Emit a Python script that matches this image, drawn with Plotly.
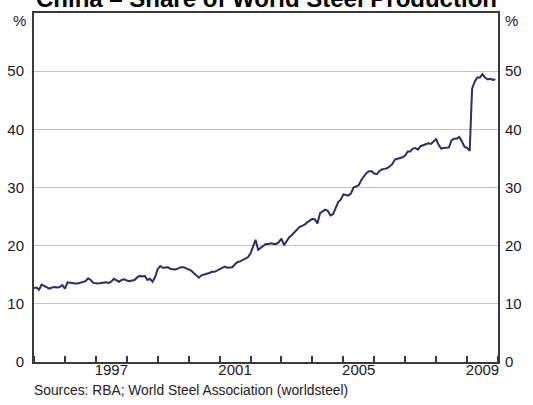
import pandas as pd
import plotly.graph_objects as go

# China share of world steel production, monthly, per cent
share_1995 = [12.7, 12.8, 12.4, 13.3, 13.1, 12.9, 12.6, 12.8, 12.9, 12.8, 12.9, 13.2]
share_1996 = [12.6, 13.7, 13.6, 13.5, 13.5, 13.5, 13.6, 13.7, 13.9, 14.4, 14.1, 13.6]
share_1997 = [13.5, 13.5, 13.6, 13.7, 13.7, 13.6, 13.8, 14.3, 14.0, 13.8, 14.1, 14.2]
share_1998 = [14.0, 13.9, 14.0, 14.1, 14.5, 14.8, 14.7, 14.8, 14.1, 14.3, 13.8, 14.6]
share_1999 = [16.0, 16.5, 16.2, 16.2, 16.3, 16.0, 15.9, 15.9, 16.1, 16.3, 16.3, 16.1]
share_2000 = [15.9, 15.7, 15.3, 14.8, 14.5, 14.9, 15.0, 15.1, 15.3, 15.5, 15.5, 15.7]
share_2001 = [15.9, 16.1, 16.4, 16.2, 16.2, 16.3, 16.8, 17.2, 17.3, 17.5, 17.7, 18.0]
share_2002 = [18.7, 20.1, 21.0, 19.3, 19.6, 20.0, 20.3, 20.3, 20.4, 20.3, 20.3, 20.6]
share_2003 = [21.2, 20.1, 20.8, 21.4, 21.8, 22.3, 22.6, 23.2, 23.4, 23.6, 24.0, 24.3]
share_2004 = [24.6, 24.5, 23.8, 25.6, 25.9, 26.2, 26.0, 25.2, 25.4, 26.6, 27.5, 27.9]
share_2005 = [28.8, 28.7, 28.6, 29.0, 30.0, 30.2, 30.4, 31.3, 31.9, 32.5, 32.8, 32.8]
share_2006 = [32.4, 32.3, 32.8, 33.1, 33.2, 33.3, 33.6, 34.0, 34.8, 34.9, 35.0, 35.2]
share_2007 = [35.5, 36.2, 36.2, 36.7, 36.8, 36.5, 37.1, 37.3, 37.5, 37.6, 37.5, 37.9]
share_2008 = [38.3, 37.3, 36.7, 36.8, 36.9, 36.9, 38.1, 38.4, 38.4, 38.7, 37.9, 37.0]
share_2009 = [36.8, 36.3, 47.0, 48.2, 48.9, 48.9, 49.5, 48.9, 48.6, 48.7, 48.5, 48.6]

start_month = "1995-01-01"
x_range = ["1995-01-01", "2010-01-01"]
year_ticks = [f"{y}-01-01" for y in range(1995, 2011)]
label_years = ["1997", "2001", "2005", "2009"]
label_pos = [f"{y}-07-02" for y in label_years]
y_tickvals = [0, 10, 20, 30, 40, 50, 60]
y_ticktext = ["0", "10", "20", "30", "40", "50", ""]
unit_label = "%"

title = "China – Share of World Steel Production"
source = "Sources: RBA; World Steel Association (worldsteel)"

values = (share_1995 + share_1996 + share_1997 + share_1998 + share_1999 + share_2000
          + share_2001 + share_2002 + share_2003 + share_2004 + share_2005 + share_2006
          + share_2007 + share_2008 + share_2009)
dates = pd.date_range(start_month, periods=len(values), freq="MS")

FONT = "Liberation Sans, Arial, sans-serif"
AX = "#3a3a3a"
TXT = "#1a1a1a"

fig = go.Figure()
fig.add_trace(go.Scatter(x=dates, y=values, mode="lines",
                         line=dict(color="#2c2e66", width=2), hoverinfo="skip",
                         showlegend=False))
fig.add_trace(go.Scatter(x=dates, y=values, mode="lines", yaxis="y2",
                         line=dict(color="rgba(0,0,0,0)", width=0), hoverinfo="skip",
                         showlegend=False))

yaxis_common = dict(range=[0, 60], tickmode="array", tickvals=y_tickvals, ticktext=y_ticktext,
                    ticks="outside", tickcolor="rgba(0,0,0,0)",
                    tickfont=dict(family=FONT, size=15, color=TXT), zeroline=False,
                    fixedrange=True, automargin=False)

fig.update_layout(
    width=533, height=405,
    margin=dict(l=34, r=35, t=13, b=43, autoexpand=False),
    paper_bgcolor="white", plot_bgcolor="white",
    xaxis=dict(type="date", range=x_range, tickmode="array", tickvals=label_pos,
               ticktext=label_years, ticks="", showgrid=False, zeroline=False,
               showline=True, linecolor=AX, linewidth=2, mirror=True, automargin=False,
               ticklabelstandoff=-7,
               tickfont=dict(family=FONT, size=15, color=TXT),
               minor=dict(tickmode="array", tickvals=year_ticks, ticks="inside",
                          ticklen=6, tickwidth=1.5, tickcolor=AX, showgrid=False)),
    yaxis=dict(**yaxis_common, ticklen=5, side="left", showgrid=True, gridcolor="#c4c4c4",
               gridwidth=1, showline=True, linecolor=AX, linewidth=2, mirror=True),
    yaxis2=dict(**yaxis_common, ticklen=3, side="right", overlaying="y", matches="y",
                showgrid=False, showline=False),
    annotations=[
        dict(text=f"<b>{title}</b>", x=0.5, xref="paper", xanchor="center",
             y=1, yref="paper", yanchor="middle", yshift=15, showarrow=False,
             font=dict(family=FONT, size=24, color="#000000")),
        dict(text=source, x=0, xref="paper", xanchor="left", xshift=-2,
             y=-0.083, yref="paper", yanchor="middle", showarrow=False,
             font=dict(family=FONT, size=13.8, color="#222222")),
        dict(text=unit_label, x=0, xref="paper", xanchor="right", xshift=-6,
             y=1, yref="paper", yanchor="middle", yshift=-7, showarrow=False,
             font=dict(family=FONT, size=15, color=TXT)),
        dict(text=unit_label, x=1, xref="paper", xanchor="left", xshift=5,
             y=1, yref="paper", yanchor="middle", yshift=-7, showarrow=False,
             font=dict(family=FONT, size=15, color=TXT)),
    ],
)

fig.write_html("out.html", config={"displayModeBar": False},
               post_script="document.body.style.margin='0';document.body.style.overflow='hidden';")
